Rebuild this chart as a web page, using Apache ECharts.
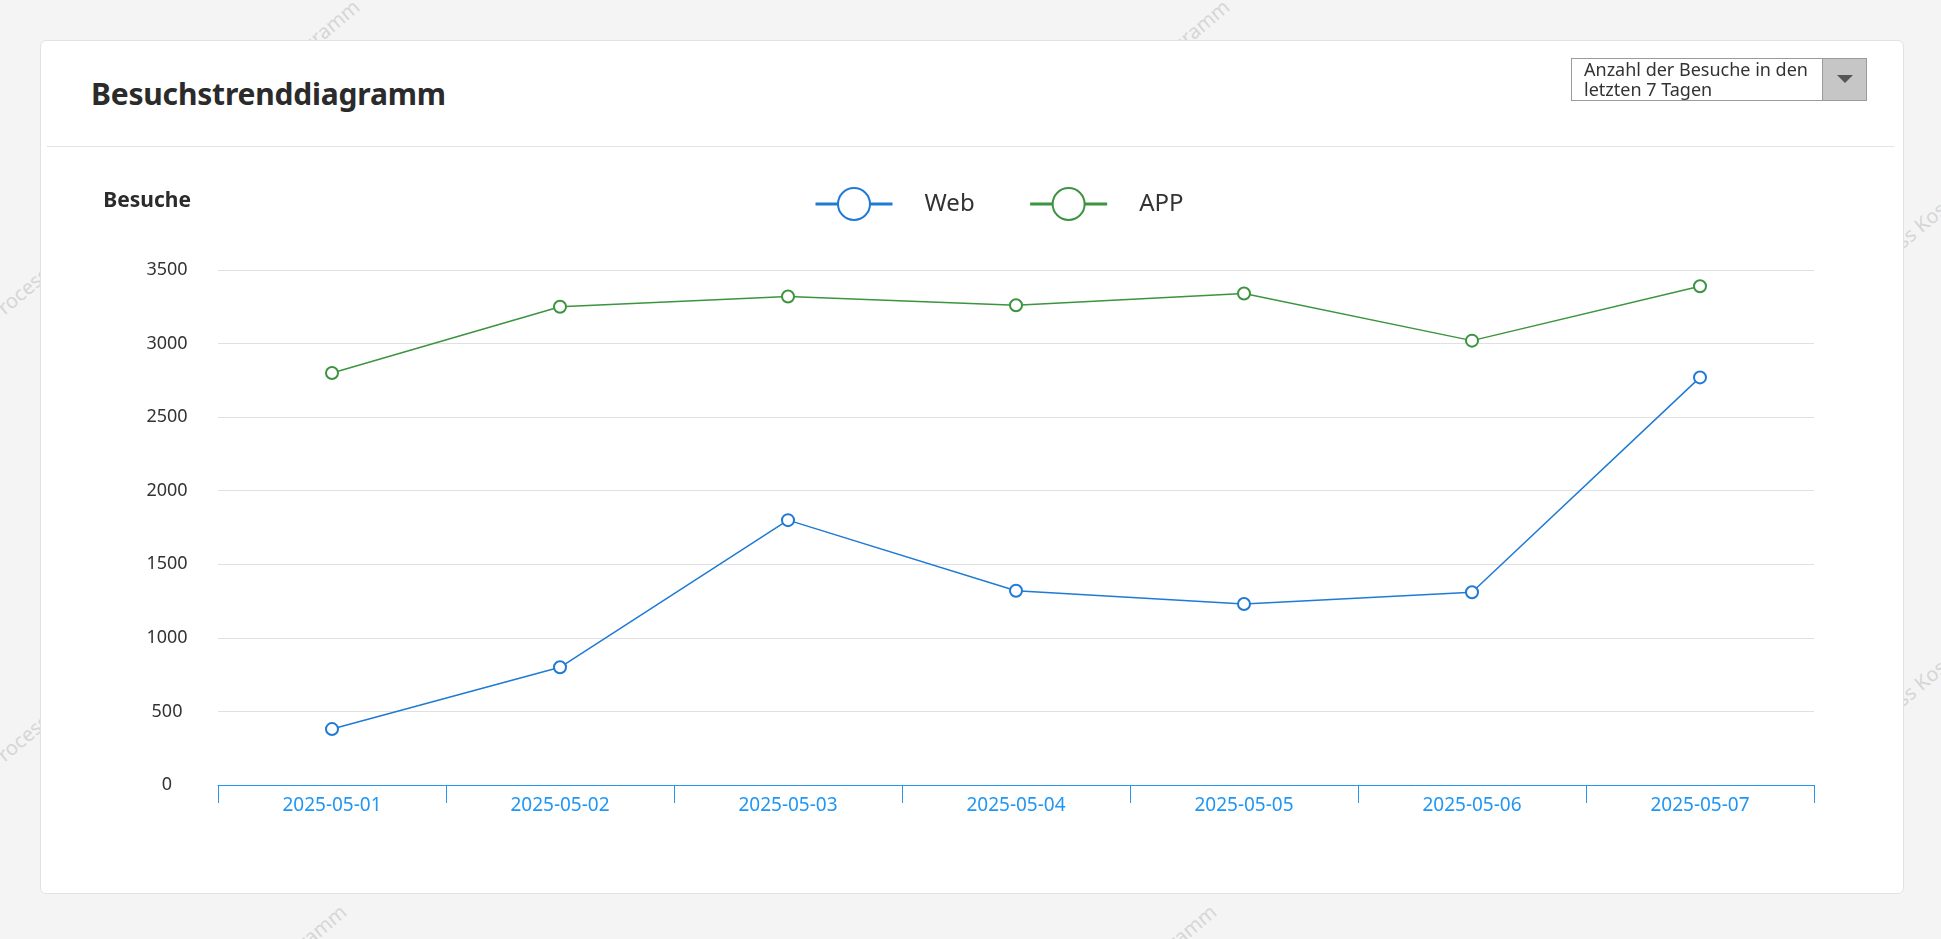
<!DOCTYPE html>
<html>
<head>
<meta charset="utf-8">
<title>Besuchstrenddiagramm</title>
<script src="https://cdn.jsdelivr.net/npm/echarts@6/dist/echarts.min.js"></script>
<style>
  html, body {
    margin: 0;
    padding: 0;
    width: 1941px;
    height: 939px;
    overflow: hidden;
    background: #f4f4f4;
    font-family: "Noto Sans", sans-serif;
  }
  .wm {
    position: absolute;
    color: #d6d6d6;
    font-size: 20px;
    line-height: 20px;
    white-space: nowrap;
    transform-origin: 0 50%;
    transform: rotate(-40deg);
  }
  .card {
    position: absolute;
    left: 40px;
    top: 40px;
    width: 1862px;
    height: 852px;
    background: #fff;
    border: 1px solid #e2e2e2;
    border-radius: 6px;
  }
  .title {
    position: absolute;
    left: 91px;
    top: 75px;
    font-size: 30px;
    line-height: 38px;
    font-weight: bold;
    letter-spacing: -0.2px;
    color: #2b2b2b;
  }
  .sep {
    position: absolute;
    left: 47px;
    top: 146px;
    width: 1847px;
    height: 1px;
    background: #e3e3e3;
  }
  .select {
    position: absolute;
    left: 1571px;
    top: 58px;
    width: 296px;
    height: 43px;
    border: 1px solid #9a9a9a;
    background: #fff;
    box-sizing: border-box;
  }
  .select .txt {
    position: absolute;
    left: 12px;
    top: 0px;
    font-size: 18px;
    line-height: 20px;
    color: #333;
  }
  .select .btn {
    position: absolute;
    right: 0;
    top: 0;
    width: 43px;
    height: 41px;
    background: #c6c6c6;
    border-left: 1px solid #9a9a9a;
  }
  .select .btn:after {
    content: "";
    position: absolute;
    left: 14px;
    top: 16px;
    border-left: 8px solid transparent;
    border-right: 8px solid transparent;
    border-top: 8px solid #555;
  }
  #chart {
    position: absolute;
    left: 0;
    top: 0;
    width: 1941px;
    height: 939px;
  }
</style>
</head>
<body>
<span class="wm" style="left:173px;top:148px">Process Kostendiagramm</span>
<span class="wm" style="left:1043px;top:148px">Process Kostendiagramm</span>
<span class="wm" style="left:160px;top:1053px">Process Kostendiagramm</span>
<span class="wm" style="left:1030px;top:1053px">Process Kostendiagramm</span>
<span class="wm" style="left:1858px;top:268px">Process Kostendiagramm</span>
<span class="wm" style="left:1858px;top:726px">Process Kostendiagramm</span>
<span class="wm" style="left:-9px;top:308px">Process Kostendiagramm</span>
<span class="wm" style="left:-9px;top:755px">Process Kostendiagramm</span>

<div class="card"></div>
<div class="title">Besuchstrenddiagramm</div>
<div class="sep"></div>
<div id="chart"></div>
<div class="select">
  <div class="txt">Anzahl der Besuche in den<br>letzten 7 Tagen</div>
  <div class="btn"></div>
</div>

<script>
// Daten
var dates = ["2025-05-01", "2025-05-02", "2025-05-03", "2025-05-04", "2025-05-05", "2025-05-06", "2025-05-07"];
var webVisits = [380, 800, 1800, 1320, 1230, 1310, 2770];
var appVisits = [2800, 3250, 3320, 3260, 3340, 3020, 3390];
var seriesNames = ["Web", "APP"];
var yMin = 0;
var yMax = 3500;
var yStep = 500;

var WEB_COLOR = "#1f7ad6";
var APP_COLOR = "#3c943f";
var AXIS_BLUE = "#2196f3";
var FONT = "Noto Sans";

var chart = echarts.init(document.getElementById("chart"));

var option = {
  animation: false,
  textStyle: { fontFamily: FONT },
  legend: {
    data: seriesNames,
    left: 809,
    top: 182,
    itemWidth: 77,
    itemHeight: 40,
    itemGap: 54,
    lineStyle: { width: 3 },
    itemStyle: { borderWidth: 3 },
    textStyle: {
      fontSize: 24,
      color: "#333",
      fontFamily: FONT,
      padding: [0, 0, 0, 27]
    }
  },
  grid: {
    left: 218,
    right: 127,
    top: 270,
    bottom: 154
  },
  xAxis: {
    type: "category",
    data: dates,
    boundaryGap: true,
    axisLine: {
      show: true,
      lineStyle: { color: AXIS_BLUE, width: 1 }
    },
    axisTick: {
      show: true,
      length: 18,
      lineStyle: { color: AXIS_BLUE, width: 1 }
    },
    axisLabel: {
      color: AXIS_BLUE,
      fontSize: 19,
      margin: 11,
      fontFamily: FONT
    },
    splitLine: { show: false }
  },
  yAxis: {
    type: "value",
    min: yMin,
    max: yMax,
    interval: yStep,
    name: "Besuche",
    nameLocation: "end",
    nameGap: 58,
    nameTextStyle: {
      fontSize: 21,
      fontWeight: "bold",
      color: "#2b2b2b",
      align: "right",
      padding: [0, 27, 0, 0],
      fontFamily: FONT
    },
    axisLine: { show: false },
    axisTick: { show: false },
    axisLabel: {
      align: "center",
      margin: 51,
      fontSize: 18,
      color: "#333",
      fontFamily: FONT,
      formatter: function (v) { return String(v); }
    },
    splitLine: {
      lineStyle: { color: "#e0e0e0", width: 1 }
    }
  },
  series: [
    {
      name: seriesNames[0],
      type: "line",
      data: webVisits,
      symbol: "emptyCircle",
      symbolSize: 12,
      lineStyle: { color: WEB_COLOR, width: 1.5 },
      itemStyle: { color: WEB_COLOR, borderWidth: 1.5 }
    },
    {
      name: seriesNames[1],
      type: "line",
      data: appVisits,
      symbol: "emptyCircle",
      symbolSize: 12,
      lineStyle: { color: APP_COLOR, width: 1.5 },
      itemStyle: { color: APP_COLOR, borderWidth: 1.5 }
    }
  ]
};

chart.setOption(option);
</script>
</body>
</html>
